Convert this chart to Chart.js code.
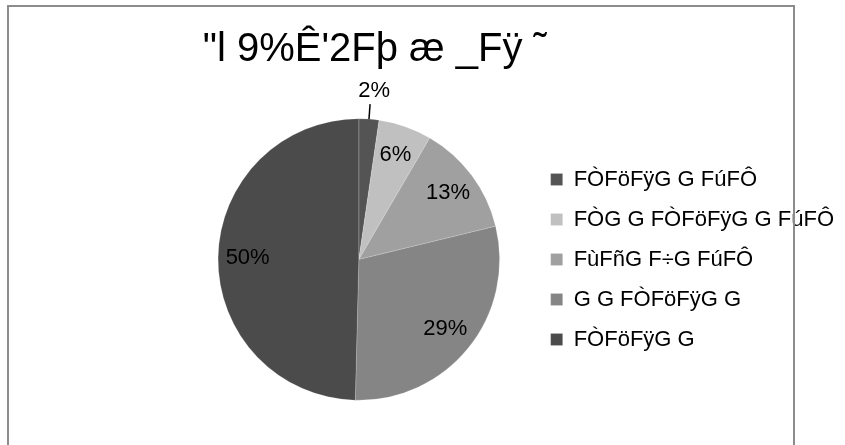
<!DOCTYPE html>
<html>
<head>
<meta charset="utf-8">
<script src="https://cdn.jsdelivr.net/npm/chart.js@4.4.0/dist/chart.umd.min.js"></script>
<style>
  html, body { margin: 0; padding: 0; background: #fff; }
  #wrap { position: relative; width: 845px; height: 445px; overflow: hidden; }
  #pie_chart { position: absolute; left: 0; top: 0; }
  #frame { position: absolute; left: 7px; top: 5px; width: 784px; height: 470px; border: 2px solid #8c8c8c; border-bottom: none; pointer-events: none; }
</style>
</head>
<body>
<div id="wrap">
  <canvas id="pie_chart" width="845" height="445" style="width:845px;height:445px"></canvas>
  <div id="frame"></div>
</div>
<script>
const chart_title = '"l 9%Ê\'2Fþ æ _Fÿ ˜';
const category_labels = ['FÒFöFÿG G FúFÔ', 'FÒG G FÒFöFÿG G FúFÔ', 'FùFñG F÷G FúFÔ', 'G G FÒFöFÿG G', 'FÒFöFÿG G'];
const share_values = [2.3, 6.1, 12.8, 29.2, 49.6];
const slice_colors = ['#545454', '#c0c0c0', '#a0a0a0', '#858585', '#4b4b4b'];

const FONT = '"Liberation Sans", Arial, sans-serif';

// percent labels, small slices get a leader line outside the pie
const pieLabels = {
    id: 'pieLabels',
    afterDatasetsDraw(chart) {
        const ctx = chart.ctx;
        const meta = chart.getDatasetMeta(0);
        const values = chart.data.datasets[0].data;
        const total = values.reduce((a, b) => a + b, 0);
        ctx.save();
        ctx.font = '22px ' + FONT;
        ctx.fillStyle = '#000';
        ctx.strokeStyle = '#000';
        ctx.lineWidth = 1.5;
        ctx.textAlign = 'center';
        ctx.textBaseline = 'middle';
        meta.data.forEach((arc, i) => {
            const p = arc.getProps(['x', 'y', 'startAngle', 'endAngle', 'outerRadius'], true);
            const mid = (p.startAngle + p.endAngle) / 2;
            const cos = Math.cos(mid);
            const sin = Math.sin(mid);
            const text = Math.round(values[i] / total * 100) + '%';
            if (values[i] / total < 0.04) {
                ctx.beginPath();
                ctx.moveTo(p.x + cos * p.outerRadius, p.y + sin * p.outerRadius);
                ctx.lineTo(p.x + cos * (p.outerRadius + 15), p.y + sin * (p.outerRadius + 15));
                ctx.stroke();
                ctx.fillText(text, p.x + cos * (p.outerRadius + 30) + 3, p.y + sin * (p.outerRadius + 30) + 2);
            } else {
                const r = p.outerRadius * 0.79;
                ctx.fillText(text, p.x + cos * r, p.y + sin * r);
            }
        });
        ctx.restore();
    }
};

// title sits a bit right of the pie centre in the original
const titleShift = {
    id: 'titleShift',
    afterLayout(chart) {
        chart.titleBlock.left += 16;
        chart.titleBlock.right += 16;
    }
};

const data = {
    labels: category_labels,
    datasets: [{
        data: share_values,
        backgroundColor: slice_colors,
        borderColor: 'rgba(255,255,255,0.35)',
        borderWidth: 0.5,
        hoverOffset: 0
    }]
};

const config = {
    type: 'pie',
    data: data,
    options: {
        responsive: false,
        animation: false,
        events: [],
        layout: {
            padding: {left: 185, right: 1, top: 0, bottom: 44.5}
        },
        plugins: {
            title: {
                display: true,
                text: chart_title,
                fullSize: false,
                color: '#000',
                font: {family: FONT, size: 40, weight: 'normal'},
                padding: {top: 26, bottom: 44.5}
            },
            legend: {
                display: true,
                position: 'right',
                fullSize: false,
                labels: {
                    boxWidth: 12,
                    boxHeight: 12,
                    padding: 18,
                    color: '#000',
                    font: {family: FONT, size: 22}
                }
            },
            tooltip: {enabled: false}
        }
    },
    plugins: [pieLabels, titleShift]
};

const myChart = new Chart(document.getElementById('pie_chart'), config);
</script>
</body>
</html>
